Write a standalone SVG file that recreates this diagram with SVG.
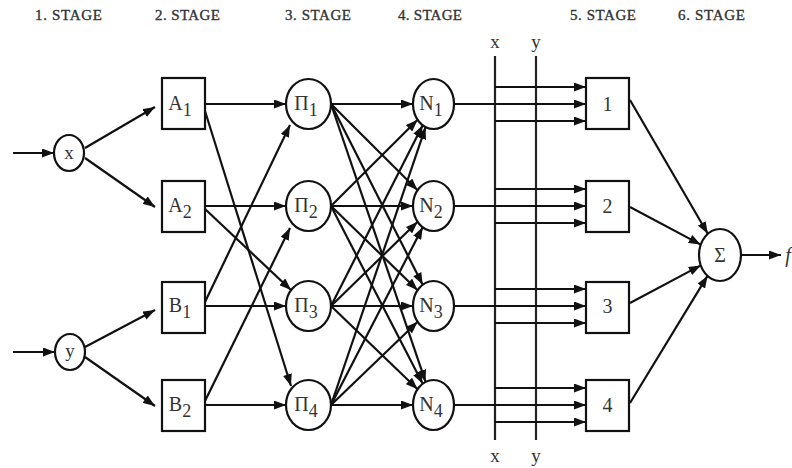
<svg xmlns="http://www.w3.org/2000/svg" width="792" height="468" viewBox="0 0 792 468">
<defs>
<marker id="ah" markerUnits="userSpaceOnUse" markerWidth="13" markerHeight="9" refX="12" refY="4.5" orient="auto">
<path d="M0,0 L12,4.5 L0,9 z" fill="#111"/>
</marker>
<style>
.ln{stroke:#111;stroke-width:2.2;fill:none;marker-end:url(#ah)}
.pl{stroke:#222;stroke-width:2.2;fill:none}
.nd{stroke:#111;stroke-width:2.2;fill:#fff}
.st{font-family:"Liberation Serif",serif;font-size:15px;fill:#333;stroke:#333;stroke-width:0.35}
.lb{font-family:"Liberation Serif",serif;font-size:20px;fill:#333;text-anchor:middle}
.sb{font-size:18px}
.sm{font-family:"Liberation Serif",serif;font-size:19px;fill:#333;text-anchor:middle}
</style>
</defs>
<rect width="792" height="468" fill="#fff"/>
<g id="stage-labels">
<text class="st" x="35" y="20" textLength="67">1. STAGE</text>
<text class="st" x="155" y="20" textLength="65">2. STAGE</text>
<text class="st" x="285" y="20" textLength="66">3. STAGE</text>
<text class="st" x="398" y="20" textLength="64">4. STAGE</text>
<text class="st" x="570" y="20" textLength="66">5. STAGE</text>
<text class="st" x="678" y="20" textLength="67">6. STAGE</text>
</g>
<g id="bus">
<line class="pl" x1="495" y1="56" x2="495" y2="440"/>
<line class="pl" x1="536" y1="56" x2="536" y2="440"/>
<text class="sm" x="495" y="48">x</text>
<text class="sm" x="536" y="48">y</text>
<text class="sm" x="495" y="462">x</text>
<text class="sm" x="536" y="462">y</text>
</g>
<g id="connectors">
<line class="ln" x1="13" y1="153" x2="54" y2="153"/>
<line class="ln" x1="13" y1="352" x2="55" y2="352"/>
<line class="ln" x1="85" y1="148" x2="155" y2="107"/>
<line class="ln" x1="85" y1="158" x2="155" y2="207"/>
<line class="ln" x1="85" y1="347" x2="155" y2="310"/>
<line class="ln" x1="85" y1="357" x2="155" y2="406"/>
<line class="ln" x1="205" y1="104" x2="286" y2="104"/>
<line class="ln" x1="205" y1="206" x2="286" y2="206"/>
<line class="ln" x1="205" y1="306" x2="286" y2="306"/>
<line class="ln" x1="205" y1="405" x2="286" y2="405"/>
<line class="ln" x1="205" y1="111" x2="291" y2="386"/>
<line class="ln" x1="205" y1="209" x2="291" y2="290"/>
<line class="ln" x1="205" y1="302" x2="290" y2="125"/>
<line class="ln" x1="205" y1="401" x2="290" y2="228"/>
<line class="ln" x1="331" y1="104" x2="413" y2="104"/>
<line class="ln" x1="331" y1="104" x2="417.6" y2="190.2"/>
<line class="ln" x1="331" y1="104" x2="422.7" y2="284.8"/>
<line class="ln" x1="331" y1="104" x2="425.6" y2="381.9"/>
<line class="ln" x1="331" y1="206" x2="417.6" y2="119.8"/>
<line class="ln" x1="331" y1="206" x2="413" y2="206"/>
<line class="ln" x1="331" y1="206" x2="417.6" y2="290.2"/>
<line class="ln" x1="331" y1="206" x2="422.7" y2="383.8"/>
<line class="ln" x1="331" y1="306" x2="422.7" y2="125.2"/>
<line class="ln" x1="331" y1="306" x2="417.6" y2="221.8"/>
<line class="ln" x1="331" y1="306" x2="413" y2="306"/>
<line class="ln" x1="331" y1="306" x2="417.6" y2="389.2"/>
<line class="ln" x1="331" y1="405" x2="425.6" y2="127.1"/>
<line class="ln" x1="331" y1="405" x2="422.7" y2="227.2"/>
<line class="ln" x1="331" y1="405" x2="417.6" y2="321.8"/>
<line class="ln" x1="331" y1="405" x2="413" y2="405"/>
<line class="ln" x1="495" y1="87" x2="586" y2="87"/>
<line class="ln" x1="454" y1="104" x2="586" y2="104"/>
<line class="ln" x1="495" y1="121" x2="586" y2="121"/>
<line class="ln" x1="495" y1="189" x2="586" y2="189"/>
<line class="ln" x1="454" y1="206" x2="586" y2="206"/>
<line class="ln" x1="495" y1="223" x2="586" y2="223"/>
<line class="ln" x1="495" y1="289" x2="586" y2="289"/>
<line class="ln" x1="454" y1="306" x2="586" y2="306"/>
<line class="ln" x1="495" y1="323" x2="586" y2="323"/>
<line class="ln" x1="495" y1="388" x2="586" y2="388"/>
<line class="ln" x1="454" y1="405" x2="586" y2="405"/>
<line class="ln" x1="495" y1="422" x2="586" y2="422"/>
<line class="ln" x1="630" y1="100" x2="707.8" y2="233.8"/>
<line class="ln" x1="630" y1="207" x2="700.7" y2="244.6"/>
<line class="ln" x1="630" y1="303" x2="700.7" y2="265.4"/>
<line class="ln" x1="630" y1="403" x2="707.5" y2="275.9"/>
<line class="ln" x1="741" y1="255" x2="781" y2="255"/>
</g>
<g id="node-x"><ellipse class="nd" cx="69" cy="153" rx="15" ry="18"/><text class="sm" x="69" y="159">x</text></g>
<g id="node-y"><ellipse class="nd" cx="70" cy="352" rx="15" ry="18"/><text class="sm" x="70" y="357">y</text></g>
<g id="node-A1"><rect class="nd" x="162" y="78" width="43" height="51"/><text class="lb" x="180" y="110">A<tspan class="sb" dy="6">1</tspan></text></g>
<g id="node-A2"><rect class="nd" x="162" y="181" width="43" height="51"/><text class="lb" x="180" y="212">A<tspan class="sb" dy="6">2</tspan></text></g>
<g id="node-B1"><rect class="nd" x="162" y="282" width="43" height="51"/><text class="lb" x="180" y="312">B<tspan class="sb" dy="6">1</tspan></text></g>
<g id="node-B2"><rect class="nd" x="162" y="380" width="43" height="51"/><text class="lb" x="180" y="411">B<tspan class="sb" dy="6">2</tspan></text></g>
<g id="node-P1"><ellipse class="nd" cx="308.5" cy="104" rx="22.5" ry="25"/><text class="lb" x="306" y="110">Π<tspan class="sb" dy="6">1</tspan></text></g>
<g id="node-P2"><ellipse class="nd" cx="308.5" cy="206" rx="22.5" ry="25"/><text class="lb" x="306" y="212">Π<tspan class="sb" dy="6">2</tspan></text></g>
<g id="node-P3"><ellipse class="nd" cx="308.5" cy="306" rx="22.5" ry="25"/><text class="lb" x="306" y="312">Π<tspan class="sb" dy="6">3</tspan></text></g>
<g id="node-P4"><ellipse class="nd" cx="308.5" cy="405" rx="22.5" ry="25"/><text class="lb" x="306" y="411">Π<tspan class="sb" dy="6">4</tspan></text></g>
<g id="node-N1"><ellipse class="nd" cx="433.5" cy="104" rx="20.5" ry="25"/><text class="lb" x="431" y="110">N<tspan class="sb" dy="6">1</tspan></text></g>
<g id="node-N2"><ellipse class="nd" cx="433.5" cy="206" rx="20.5" ry="25"/><text class="lb" x="431" y="212">N<tspan class="sb" dy="6">2</tspan></text></g>
<g id="node-N3"><ellipse class="nd" cx="433.5" cy="306" rx="20.5" ry="25"/><text class="lb" x="431" y="312">N<tspan class="sb" dy="6">3</tspan></text></g>
<g id="node-N4"><ellipse class="nd" cx="433.5" cy="405" rx="20.5" ry="25"/><text class="lb" x="431" y="411">N<tspan class="sb" dy="6">4</tspan></text></g>
<g id="node-R1"><rect class="nd" x="586" y="78" width="43" height="51"/><text class="lb" x="607.5" y="111">1</text></g>
<g id="node-R2"><rect class="nd" x="586" y="181" width="43" height="51"/><text class="lb" x="607.5" y="213">2</text></g>
<g id="node-R3"><rect class="nd" x="586" y="282" width="43" height="51"/><text class="lb" x="607.5" y="313">3</text></g>
<g id="node-R4"><rect class="nd" x="586" y="380" width="43" height="51"/><text class="lb" x="607.5" y="412">4</text></g>
<g id="node-sum"><ellipse class="nd" cx="720" cy="255" rx="21" ry="26"/><text class="lb" x="720" y="262">Σ</text></g>
<g id="output"><text class="lb" x="788" y="262" font-style="italic">f</text></g>
</svg>
